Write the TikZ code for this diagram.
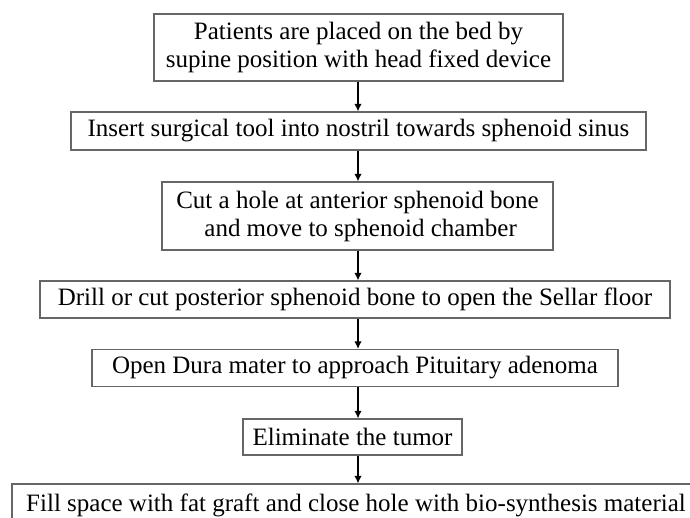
\documentclass[tikz,border=0pt]{standalone}
\usepackage{fontspec}
\setmainfont{Liberation Serif}
\usetikzlibrary{arrows.meta}
\begin{document}
\begin{tikzpicture}[x=1pt,y=-1pt,
  boxline/.style={draw=black!60, line width=1.1pt},
  stepbox/.style={boxline, inner sep=0pt, align=center,
    font=\fontsize{25}{28}\selectfont},
  flow/.style={line width=1.8pt, -{Latex[length=7.5pt,width=7.5pt]}}]
\useasboundingbox (0,0) rectangle (690,517);
\clip (0,0) rectangle (690,517);
\node[stepbox, minimum width=409pt, minimum height=67pt] (b1) at (358.5,47.5)
  {Patients are placed on the bed by\\supine position with head fixed device};
\node[stepbox, minimum width=575pt, minimum height=38pt] (b2) at (358.5,131)
  {Insert surgical tool into nostril towards sphenoid sinus};
\node[stepbox, minimum width=391pt, minimum height=68pt] (b3) at (357.5,216)
  {Cut a hole at anterior sphenoid bone\\\ and move to sphenoid chamber};
\node[stepbox, minimum width=630pt, minimum height=37pt] (b4) at (355,299.5)
  {Drill or cut posterior sphenoid bone to open the Sellar floor};
\node[stepbox, minimum width=526pt, minimum height=37pt] (b5) at (355,368)
  {Open Dura mater to approach Pituitary adenoma};
\node[stepbox, minimum width=219pt, minimum height=36pt] (b6) at (352.5,437)
  {Eliminate the tumor};
\node[stepbox, minimum width=708pt, minimum height=42pt] (b7) at (366,505) {};
\node[stepbox, draw=none] (b7t) at (356,505)
  {Fill space with fat graft and close hole with bio-synthesis material};
\draw[flow] (b1.south -| 358,0) -- (b2.north -| 358,0);
\draw[flow] (b2.south -| 358,0) -- (b3.north -| 358,0);
\draw[flow] (b3.south -| 358,0) -- (b4.north -| 358,0);
\draw[flow] (b4.south -| 358,0) -- (b5.north -| 358,0);
\draw[flow] (b5.south -| 358,0) -- (b6.north -| 358,0);
\draw[flow] (b6.south -| 358,0) -- (b7.north -| 358,0);
\end{tikzpicture}
\end{document}
